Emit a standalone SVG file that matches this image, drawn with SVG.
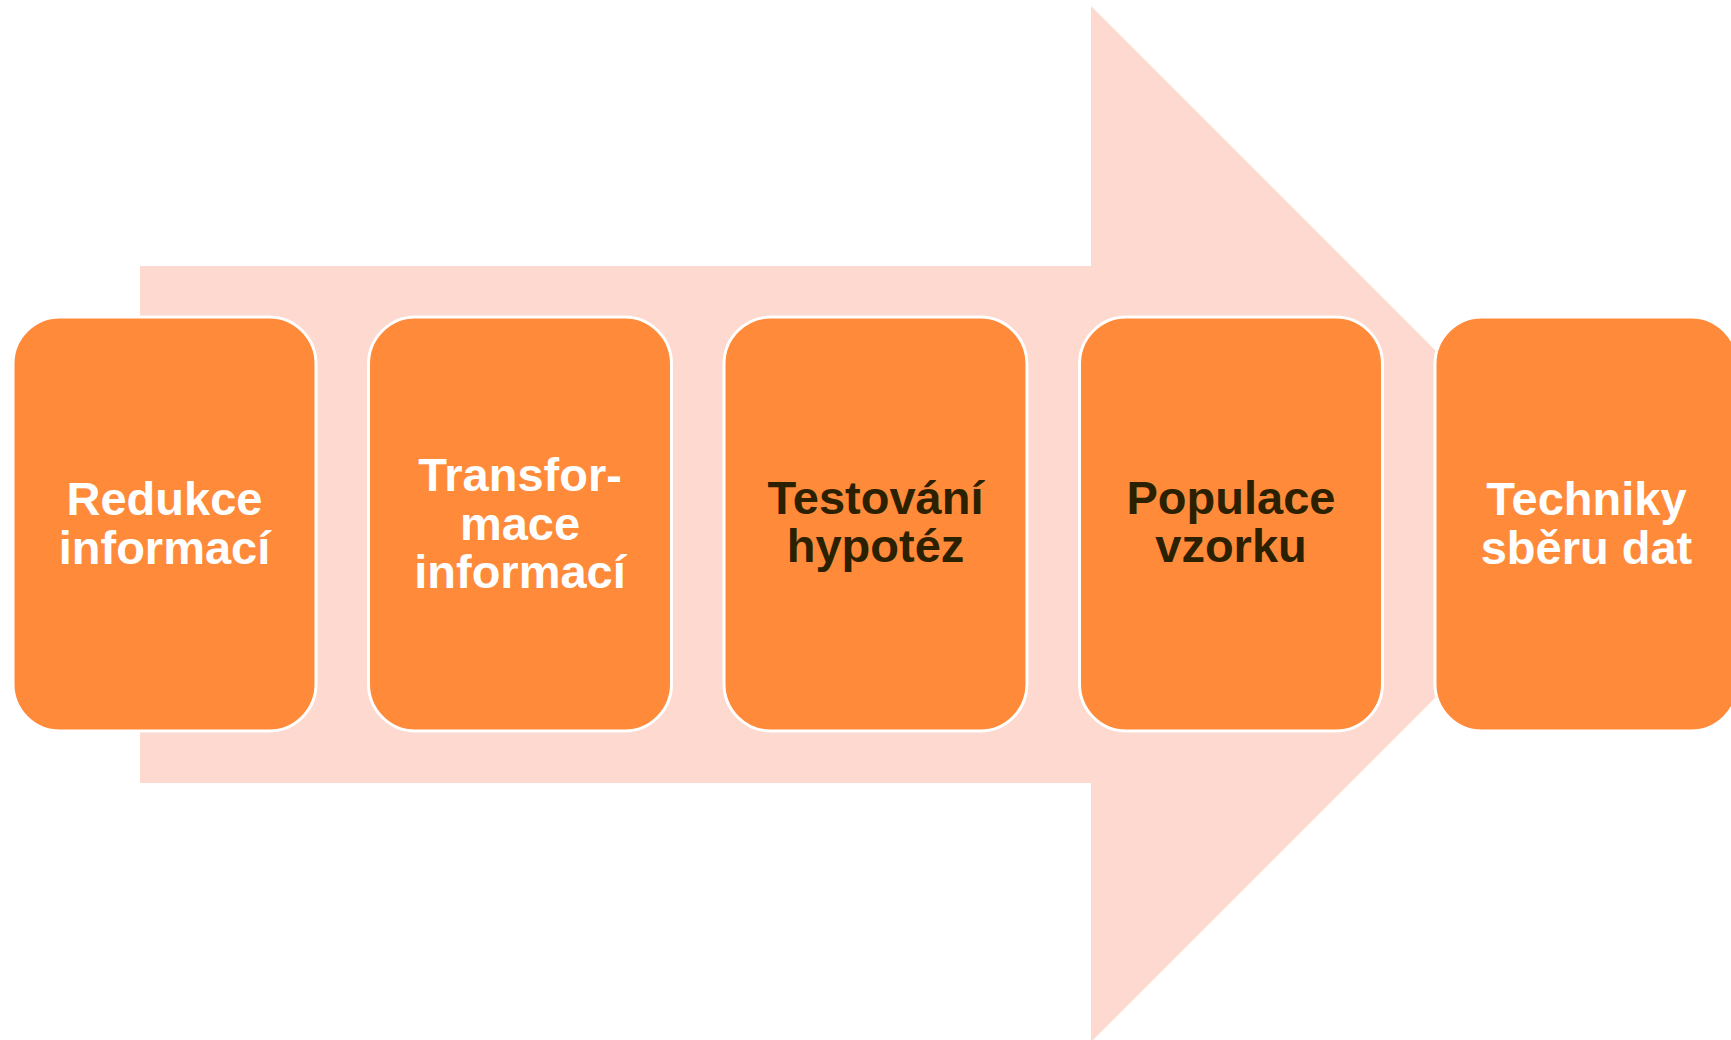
<svg xmlns="http://www.w3.org/2000/svg" width="1731" height="1040" viewBox="0 0 1731 1040">
<style>
.box{fill:#FF8A3A;stroke:#FFFFFF;stroke-width:3}
.t{font-family:"Liberation Sans",Arial,sans-serif;font-weight:bold;font-size:47px;text-anchor:middle}
.w{fill:#FFFFFF}
.d{fill:#2B2100}
</style>
<rect width="1731" height="1040" fill="#FFFFFF"/>
<g id="connectors">
<polygon points="140,266 1091,266 1091,6 1609,524 1091,1042 1091,783 140,783" fill="#FDD9CF"/>
</g>
<g id="node1">
<rect class="box" x="13" y="317" width="303" height="414" rx="47" ry="47"/>
<text class="t w" x="164.5"><tspan x="164.5" y="515">Redukce</tspan><tspan x="164.5" y="564">informací</tspan></text>
</g>
<g id="node2">
<rect class="box" x="368.5" y="317" width="303" height="414" rx="47" ry="47"/>
<text class="t w" x="520"><tspan x="520" y="491">Transfor-</tspan><tspan x="520" y="540">mace</tspan><tspan x="520" y="588">informací</tspan></text>
</g>
<g id="node3">
<rect class="box" x="724" y="317" width="303" height="414" rx="47" ry="47"/>
<text class="t d" x="875.5"><tspan x="875.5" y="514">Testování</tspan><tspan x="875.5" y="562">hypotéz</tspan></text>
</g>
<g id="node4">
<rect class="box" x="1079.5" y="317" width="303" height="414" rx="47" ry="47"/>
<text class="t d" x="1231"><tspan x="1231" y="514">Populace</tspan><tspan x="1231" y="562">vzorku</tspan></text>
</g>
<g id="node5">
<rect class="box" x="1435" y="317" width="303" height="414" rx="47" ry="47"/>
<text class="t w" x="1586.5"><tspan x="1586.5" y="515">Techniky</tspan><tspan x="1586.5" y="564">sběru dat</tspan></text>
</g>
</svg>
